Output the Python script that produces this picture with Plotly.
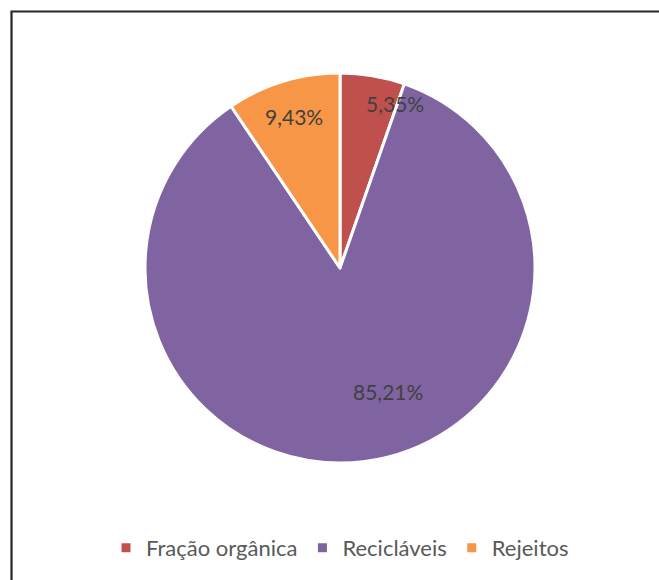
import math
import plotly.graph_objects as go

# Composição dos resíduos
categorias = ["Fração orgânica", "Recicláveis", "Rejeitos"]
percentuais = [5.35, 85.21, 9.43]
cores = ["#C0504D", "#8064A2", "#F79646"]

W, H = 659, 580
cx, cy, R = 340, 268, 195  # pixel centre / radius of the pie

fig = go.Figure(go.Pie(
    labels=categorias,
    values=percentuais,
    sort=False,
    direction="clockwise",
    rotation=0,
    marker=dict(colors=cores, line=dict(color="white", width=3)),
    textinfo="none",
    hoverinfo="label+percent",
    domain=dict(x=[(cx - R) / W, (cx + R) / W], y=[1 - (cy + R) / H, 1 - (cy - R) / H]),
))

# Data labels: placed along each slice's mid-angle, nudged like the original layout
ajuste_ang = [9, -14, 0]      # degrees added to the mid-angle
raio_rel = [0.89, 0.68, 0.81]  # fraction of the radius
total = sum(percentuais)
acum = 0
for v, da, rr in zip(percentuais, ajuste_ang, raio_rel):
    meio = (acum + v / 2) / total * 360 + da
    acum += v
    px = cx + rr * R * math.sin(math.radians(meio))
    py = cy - rr * R * math.cos(math.radians(meio))
    fig.add_annotation(
        x=px / W, y=1 - py / H, xref="paper", yref="paper",
        xanchor="center", yanchor="middle",
        text=f"{v:.2f}%".replace(".", ","), showarrow=False,
        font=dict(family="Lato, Open Sans, sans-serif", size=21, color="#404040"),
    )

# Chart frame
fig.add_shape(type="rect", xref="paper", yref="paper",
              x0=11.5 / W, x1=1.02, y0=-0.02, y1=1 - 11.5 / H,
              line=dict(color="#262626", width=2.2))

fig.update_layout(
    width=W, height=H,
    margin=dict(l=0, r=0, t=0, b=0),
    paper_bgcolor="white",
    plot_bgcolor="white",
    showlegend=True,
    legend=dict(
        orientation="h", x=340 / W, xanchor="center", y=1 - 548 / H, yanchor="middle",
        font=dict(family="Lato, Open Sans, sans-serif", size=22, color="#595959"),
        itemwidth=30, traceorder="normal",
    ),
)

fig.write_html("out.html")
